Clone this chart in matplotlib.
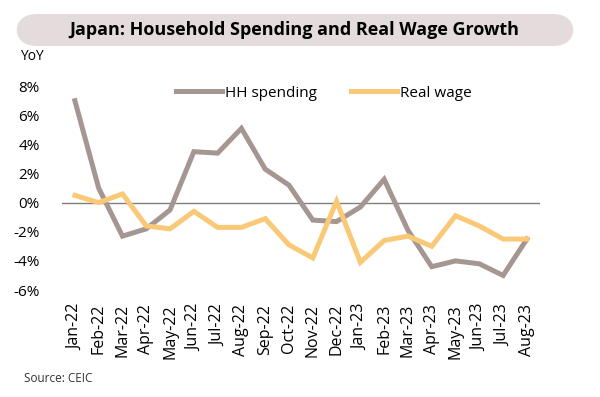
import matplotlib
matplotlib.use("Agg")
import matplotlib.pyplot as plt
from matplotlib.patches import FancyBboxPatch
from matplotlib.lines import Line2D

months = ["Jan-22", "Feb-22", "Mar-22", "Apr-22", "May-22", "Jun-22", "Jul-22",
          "Aug-22", "Sep-22", "Oct-22", "Nov-22", "Dec-22", "Jan-23", "Feb-23",
          "Mar-23", "Apr-23", "May-23", "Jun-23", "Jul-23", "Aug-23"]
hh_spending = [7.0, 1.0, -2.3, -1.8, -0.5, 3.5, 3.4, 5.1, 2.3, 1.2, -1.2, -1.3,
               -0.3, 1.6, -1.9, -4.4, -4.0, -4.2, -5.0, -2.5]
real_wage = [0.5, 0.0, 0.6, -1.6, -1.8, -0.6, -1.7, -1.7, -1.1, -2.9, -3.8, 0.1,
             -4.1, -2.6, -2.3, -3.0, -0.9, -1.6, -2.5, -2.5]
yticks = [-6, -4, -2, 0, 2, 4, 6, 8]

C_HH = "#A69692"
C_RW = "#F9C978"
FONT = "Open Sans"

fig = plt.figure(figsize=(6.0, 3.97), dpi=100)
ax = fig.add_axes([0.103, 0.2695, 0.797, 0.5135])

x = list(range(len(months)))
ax.plot(x, hh_spending, color=C_HH, lw=3.6, solid_joinstyle="miter", zorder=3)
ax.plot(x, real_wage, color=C_RW, lw=3.6, solid_joinstyle="miter", zorder=3)
ax.axhline(0, color="#7F7F7F", lw=1.0, zorder=2)

ax.set_xlim(-0.55, len(months) - 0.45)
ax.set_ylim(-6, 8)
ax.set_yticks(yticks)
ax.set_yticklabels([f"{v}%" for v in yticks], fontsize=11, family=FONT)
ax.set_xticks(x)
ax.set_xticklabels(months, rotation=90, fontsize=11.5, family=FONT)
ax.tick_params(axis="y", length=0, pad=16)
ax.tick_params(axis="x", length=0, pad=10)
for s in ax.spines.values():
    s.set_visible(False)

handles = [Line2D([], [], color=C_HH, lw=3.6), Line2D([], [], color=C_RW, lw=3.6)]
fig.legend(handles, ["HH spending", "Real wage"], loc="center", bbox_to_anchor=(0.54, 0.765),
           ncol=2, frameon=False, prop={"family": FONT, "size": 11}, handlelength=3.0,
           handletextpad=0.2, columnspacing=2.2)

box = FancyBboxPatch((16 / 600, 1 - 46 / 397), (574 - 16) / 600, 32 / 397,
                     boxstyle="round,pad=0,rounding_size=0.035", transform=fig.transFigure,
                     facecolor="#E4DCDC", edgecolor="none", mutation_aspect=600 / 397)
fig.patches.append(box)
fig.text(0.49, 1 - 30 / 397, "Japan: Household Spending and Real Wage Growth",
         ha="center", va="center", fontsize=13, fontweight="bold", family=FONT)
fig.text(20 / 600, 1 - 56 / 397, "YoY", ha="left", va="center", fontsize=10, family=FONT)
fig.text(24 / 600, 1 - 378 / 397, "Source: CEIC", ha="left", va="center", fontsize=8.5,
         family=FONT, color="#333333")

fig.savefig("out.png", dpi=100)
